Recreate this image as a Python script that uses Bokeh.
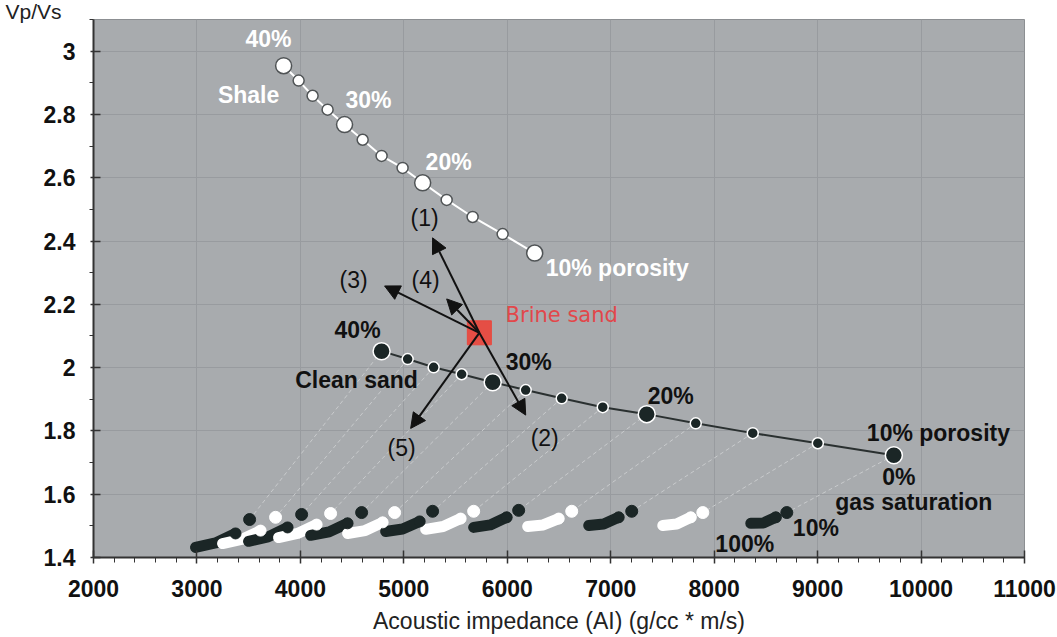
from bokeh.plotting import figure
from bokeh.models import FixedTicker, SingleIntervalTicker, Arrow, NormalHead, ColumnDataSource
from bokeh.core.properties import value
from bokeh.embed import file_html
from bokeh.resources import INLINE

# ---------------- data ----------------
porosity = [40, 37.5, 35, 32.5, 30, 27.5, 25, 22.5, 20, 17.5, 15, 12.5, 10]

shale_ai = [3838, 3983, 4118, 4263, 4427, 4602, 4785, 4988, 5182, 5414, 5665, 5955, 6265]
shale_vpvs = [2.954, 2.907, 2.859, 2.815, 2.768, 2.720, 2.669, 2.631, 2.584, 2.530, 2.476, 2.422, 2.362]

sand_ai = [4785, 5037, 5288, 5559, 5859, 6178, 6526, 6923, 7348, 7822, 8373, 9002, 9737]
sand_vpvs = [2.052, 2.027, 2.001, 1.979, 1.954, 1.929, 1.903, 1.875, 1.853, 1.824, 1.793, 1.761, 1.723]

# gas-saturated sand for each porosity: 10%, 20%, 60%, 100% gas saturation
gas10_ai = [3509, 3760, 4012, 4292, 4592, 4911, 5278, 5675, 6110, 6623, 7203, 7890, 8702]
gas10_vpvs = [1.520, 1.527, 1.536, 1.539, 1.542, 1.542, 1.546, 1.546, 1.549, 1.546, 1.546, 1.542, 1.542]
gas20_ai = [3373, 3615, 3876, 4157, 4456, 4795, 5153, 5549, 5994, 6497, 7077, 7774, 8596]
gas20_vpvs = [1.476, 1.485, 1.495, 1.504, 1.508, 1.511, 1.514, 1.523, 1.527, 1.523, 1.527, 1.527, 1.527]
gas60_ai = [3180, 3431, 3688, 3973, 4278, 4626, 4988, 5380, 5835, 6347, 6932, 7638, 8475]
gas60_vpvs = [1.446, 1.457, 1.465, 1.476, 1.481, 1.485, 1.490, 1.498, 1.503, 1.503, 1.506, 1.506, 1.509]
gas100_ai = [2986, 3248, 3499, 3789, 4099, 4456, 4824, 5211, 5675, 6197, 6787, 7503, 8354]
gas100_vpvs = [1.432, 1.444, 1.451, 1.463, 1.470, 1.476, 1.482, 1.489, 1.495, 1.498, 1.501, 1.501, 1.508]

brine_ai = [5730]
brine_vpvs = [2.11]

arrow_names = ["(1)", "(2)", "(3)", "(4)", "(5)"]
arrow_end_ai = [5278, 6178, 4814, 5414, 5066]
arrow_end_vpvs = [2.410, 1.850, 2.258, 2.217, 1.808]
arrow_label_ai = [5201, 6362, 4514, 5211, 4979]
arrow_label_vpvs = [2.473, 1.777, 2.277, 2.277, 1.745]

shale_labels = ["40%", "Shale", "30%", "20%"]
shale_label_ai = [3692, 3499, 4659, 5433]
shale_label_vpvs = [3.037, 2.862, 2.847, 2.650]
shale_end_label = "10% porosity"
shale_end_label_pos = (6371, 2.315)

sand_labels = ["40%", "Clean sand", "30%", "20%", "0%", "gas saturation", "10%", "100%"]
sand_label_ai = [4553, 4543, 6207, 7580, 9785, 9930, 8983, 8296]
sand_label_vpvs = [2.119, 1.960, 2.017, 1.910, 1.653, 1.574, 1.492, 1.444]
sand_end_label = "10% porosity"
sand_end_label_pos = (9476, 1.793)

brine_label = "Brine sand"
brine_label_pos = (5984, 2.166)

y_title = "Vp/Vs"
x_title = "Acoustic impedance (AI) (g/cc * m/s)"
x_range = (2000, 11000)
y_range = (1.4, 3.1)
y_ticks = [1.4, 1.6, 1.8, 2.0, 2.2, 2.4, 2.6, 2.8, 3.0]
y_tick_labels = ["1.4", "1.6", "1.8", "2", "2.2", "2.4", "2.6", "2.8", "3"]
y_minor_ticks = [1.5, 1.7, 1.9, 2.1, 2.3, 2.5, 2.7, 2.9, 3.1]

# ---------------- styling ----------------
FONT = "Liberation Sans"
BG = "#a8abae"
DARK = "#1b2626"
FS = "23px"

p = figure(width=1057, height=637, x_range=x_range, y_range=y_range,
           output_backend="svg", toolbar_location=None,
           min_border_left=93, min_border_right=33, min_border_top=0, min_border_bottom=80)
p.border_fill_color = "white"
p.background_fill_color = BG
p.outline_line_color = "#8c8f92"
p.outline_line_width = 1

p.title.text = y_title
p.title.align = "left"
p.title.offset = -88
p.title.standoff = -6
p.title.text_font = FONT
p.title.text_font_style = "normal"
p.title.text_font_size = "21px"
p.title.text_color = "#222222"

p.xaxis.ticker = SingleIntervalTicker(interval=1000, num_minor_ticks=5)
p.yaxis.ticker = FixedTicker(ticks=y_ticks, minor_ticks=y_minor_ticks)
p.yaxis.major_label_overrides = {t: l for t, l in zip(y_ticks, y_tick_labels)}

for ax in (p.xaxis, p.yaxis):
    ax.axis_line_color = "#333333"
    ax.axis_line_width = 2
    ax.major_tick_line_color = "#333333"
    ax.minor_tick_line_color = "#333333"
    ax.major_tick_line_width = 1.5
    ax.major_label_text_font = FONT
    ax.major_label_text_font_style = "bold"
    ax.major_label_text_font_size = FS
    ax.major_label_text_color = "#111111"
p.xaxis.major_tick_in = 7
p.xaxis.major_tick_out = 6
p.xaxis.minor_tick_in = 0
p.xaxis.minor_tick_out = 5
p.yaxis.major_tick_in = 7
p.yaxis.major_tick_out = 3
p.yaxis.minor_tick_in = 0
p.yaxis.minor_tick_out = 4
p.xaxis.major_label_standoff = 16
p.yaxis.major_label_standoff = 14
p.xaxis.axis_label = x_title
p.xaxis.axis_label_text_font = FONT
p.xaxis.axis_label_text_font_style = "normal"
p.xaxis.axis_label_text_font_size = FS
p.xaxis.axis_label_text_color = "#222222"
p.xaxis.axis_label_standoff = 8

p.xgrid.ticker = p.xaxis.ticker
p.ygrid.ticker = p.yaxis.ticker
p.grid.grid_line_color = "#989b9f"
p.grid.grid_line_width = 1

# dashed connectors from 0% gas (sand line) to 10% gas points
p.segment(x0=sand_ai, y0=sand_vpvs, x1=gas10_ai, y1=gas10_vpvs,
          line_color="#c9cbcd", line_width=1, line_dash="4 3")

# gas saturation clusters
cluster_colors = [DARK if i % 2 == 0 else "white" for i in range(len(porosity))]
p.multi_line(xs=[[a, b, c] for a, b, c in zip(gas100_ai, gas60_ai, gas20_ai)],
             ys=[[a, b, c] for a, b, c in zip(gas100_vpvs, gas60_vpvs, gas20_vpvs)],
             line_color=cluster_colors, line_width=11, line_cap="round", line_join="round")
p.scatter(gas20_ai, gas20_vpvs, size=11, color=cluster_colors)
p.scatter(gas10_ai, gas10_vpvs, size=12, color=cluster_colors)

# shale trend
big = [16 if ph % 10 == 0 else 11 for ph in porosity]
p.line(shale_ai, shale_vpvs, line_color="white", line_width=2)
p.scatter(shale_ai, shale_vpvs, size=big, fill_color="white", line_color="#505456", line_width=1.5)

# clean sand trend
p.line(sand_ai, sand_vpvs, line_color="#2a3030", line_width=2)
big_s = [17 if ph % 10 == 0 else 11 for ph in porosity]
p.scatter(sand_ai, sand_vpvs, size=big_s, fill_color=DARK, line_color="white", line_width=1.5)

# arrows
asrc = ColumnDataSource(dict(x0=brine_ai * len(arrow_names), y0=brine_vpvs * len(arrow_names),
                             x1=arrow_end_ai, y1=arrow_end_vpvs))
p.add_layout(Arrow(source=asrc, x_start="x0", y_start="y0", x_end="x1", y_end="y1",
                   line_color="#111111", line_width=2,
                   end=NormalHead(size=15, fill_color="#111111", line_color="#111111")))

# brine sand
p.scatter(brine_ai, brine_vpvs, marker="square", size=24, fill_color="#e8493f",
          line_color="#e8493f", fill_alpha=0.95)

# texts
p.text(shale_label_ai, shale_label_vpvs, text=shale_labels, text_color="white",
       text_font=value(FONT), text_font_style="bold", text_font_size=FS,
       text_align="center", text_baseline="middle")
p.text([shale_end_label_pos[0]], [shale_end_label_pos[1]], text=[shale_end_label], text_color="white",
       text_font=value(FONT), text_font_style="bold", text_font_size=FS,
       text_align="left", text_baseline="middle")
p.text(sand_label_ai, sand_label_vpvs, text=sand_labels, text_color="#111111",
       text_font=value(FONT), text_font_style="bold", text_font_size=FS,
       text_align="center", text_baseline="middle")
p.text([sand_end_label_pos[0]], [sand_end_label_pos[1]], text=[sand_end_label], text_color="#111111",
       text_font=value(FONT), text_font_style="bold", text_font_size=FS,
       text_align="left", text_baseline="middle")
p.text(arrow_label_ai, arrow_label_vpvs, text=arrow_names, text_color="#111111",
       text_font=value(FONT), text_font_size=FS,
       text_align="center", text_baseline="middle")
p.text([brine_label_pos[0]], [brine_label_pos[1]], text=[brine_label], text_color="#e2474a",
       text_font=value("DejaVu Sans"), text_font_size="21px",
       text_align="left", text_baseline="middle")

open("out.html", "w").write(file_html(p, INLINE))
